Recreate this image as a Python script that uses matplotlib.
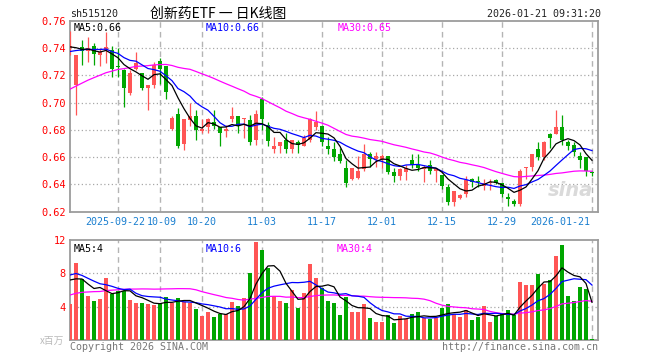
import numpy as np
import matplotlib.pyplot as plt
from matplotlib.transforms import ScaledTranslation

plt.rcParams['font.family'] = ['DejaVu Sans Mono', 'Noto Sans CJK SC']

# daily K-line data, 2025-09-10 .. 2026-01-21 (88 trading days)
opens = [0.740, 0.713, 0.741, 0.738, 0.742, 0.735, 0.739, 0.739, 0.727, 0.724,
         0.707, 0.725, 0.722, 0.711, 0.713, 0.731, 0.727, 0.681, 0.692, 0.670,
         0.687, 0.690, 0.679, 0.682, 0.686, 0.682, 0.679, 0.688, 0.690, 0.688,
         0.687, 0.673, 0.703, 0.684, 0.666, 0.668, 0.673, 0.666, 0.671, 0.668,
         0.673, 0.682, 0.683, 0.668, 0.666, 0.662, 0.652, 0.644, 0.645, 0.651,
         0.662, 0.659, 0.659, 0.661, 0.649, 0.646, 0.649, 0.658, 0.654, 0.651,
         0.654, 0.650, 0.647, 0.638, 0.627, 0.630, 0.633, 0.644, 0.6425, 0.639,
         0.641, 0.643, 0.641, 0.631, 0.628, 0.626, 0.652, 0.653, 0.666, 0.660,
         0.677, 0.677, 0.682, 0.671, 0.669, 0.661, 0.660, 0.6495]
highs = [0.753, 0.735, 0.746, 0.748, 0.744, 0.740, 0.752, 0.742, 0.740, 0.725,
         0.724, 0.737, 0.722, 0.713, 0.730, 0.733, 0.727, 0.690, 0.696, 0.688,
         0.700, 0.695, 0.688, 0.689, 0.695, 0.682, 0.684, 0.697, 0.690, 0.689,
         0.691, 0.695, 0.704, 0.686, 0.675, 0.671, 0.678, 0.673, 0.673, 0.676,
         0.689, 0.694, 0.684, 0.675, 0.671, 0.667, 0.658, 0.652, 0.661, 0.670,
         0.664, 0.664, 0.662, 0.661, 0.652, 0.652, 0.654, 0.662, 0.662, 0.654,
         0.658, 0.652, 0.647, 0.640, 0.635, 0.633, 0.646, 0.645, 0.646, 0.644,
         0.644, 0.644, 0.641, 0.634, 0.629, 0.651, 0.653, 0.662, 0.671, 0.672,
         0.678, 0.695, 0.691, 0.673, 0.671, 0.664, 0.660, 0.650]
lows = [0.735, 0.691, 0.728, 0.730, 0.728, 0.727, 0.729, 0.719, 0.719, 0.697,
        0.706, 0.724, 0.709, 0.695, 0.711, 0.714, 0.703, 0.680, 0.667, 0.665,
        0.683, 0.673, 0.678, 0.678, 0.681, 0.668, 0.675, 0.686, 0.678, 0.674,
        0.669, 0.669, 0.680, 0.668, 0.663, 0.663, 0.663, 0.663, 0.663, 0.668,
        0.671, 0.680, 0.668, 0.662, 0.657, 0.656, 0.638, 0.643, 0.644, 0.650,
        0.653, 0.653, 0.652, 0.648, 0.642, 0.643, 0.643, 0.652, 0.650, 0.642,
        0.648, 0.642, 0.637, 0.625, 0.624, 0.629, 0.631, 0.638, 0.638, 0.636,
        0.636, 0.640, 0.631, 0.624, 0.624, 0.624, 0.644, 0.650, 0.658, 0.658,
        0.667, 0.677, 0.669, 0.665, 0.661, 0.652, 0.646, 0.646]
closes = [0.742, 0.735, 0.738, 0.740, 0.736, 0.737, 0.741, 0.725, 0.726, 0.711,
          0.722, 0.729, 0.711, 0.713, 0.728, 0.725, 0.708, 0.689, 0.668, 0.688,
          0.690, 0.680, 0.681, 0.688, 0.683, 0.678, 0.681, 0.690, 0.683, 0.689,
          0.671, 0.692, 0.688, 0.672, 0.668, 0.671, 0.666, 0.673, 0.669, 0.674,
          0.688, 0.686, 0.671, 0.666, 0.660, 0.657, 0.641, 0.652, 0.650, 0.662,
          0.659, 0.661, 0.661, 0.649, 0.646, 0.651, 0.652, 0.654, 0.652, 0.653,
          0.650, 0.651, 0.639, 0.627, 0.635, 0.632, 0.643, 0.642, 0.6417, 0.641,
          0.642, 0.641, 0.633, 0.629, 0.626, 0.650, 0.6527, 0.662, 0.660, 0.671,
          0.674, 0.682, 0.673, 0.668, 0.664, 0.658, 0.650, 0.6485]
volumes = [4.3, 9.3, 7.3, 5.3, 4.7, 4.9, 7.4, 5.5, 5.9, 5.9,
           4.8, 4.4, 4.4, 4.3, 4.2, 4.5, 5.2, 4.4, 5.0, 4.6,
           4.5, 3.7, 2.9, 3.4, 2.8, 3.1, 3.1, 4.6, 4.1, 5.1,
           8.0, 11.8, 10.8, 8.7, 5.3, 4.7, 4.5, 6.0, 3.9, 5.6,
           9.1, 7.5, 6.2, 4.7, 4.4, 3.0, 5.2, 3.4, 3.4, 4.3,
           2.6, 2.2, 2.2, 3.0, 2.1, 2.9, 2.5, 3.1, 3.4, 2.6,
           2.5, 2.6, 3.9, 4.3, 3.1, 2.8, 3.6, 2.4, 2.8, 4.1,
           2.2, 2.9, 3.2, 3.6, 3.0, 7.0, 6.6, 6.6, 7.9, 6.7,
           7.2, 10.1, 11.4, 5.3, 4.7, 6.4, 6.1, 0.1]

# sessions before the window, only used to seed the moving averages
prior_closes = [0.668, 0.672, 0.675, 0.680, 0.684, 0.686, 0.690, 0.688, 0.694, 0.699,
                0.702, 0.705, 0.703, 0.712, 0.718, 0.705, 0.712, 0.708, 0.713, 0.709,
                0.728, 0.733, 0.736, 0.737, 0.737, 0.738, 0.744, 0.739, 0.742]
prior_volumes = [3.2, 3.8, 4.0, 3.5, 4.4, 4.1, 3.9, 4.6, 4.2, 4.0,
                 4.3, 3.9, 4.5, 4.8, 4.2, 4.6, 4.1, 4.4, 4.7, 4.8,
                 7.5, 9.6, 8.8, 8.1, 8.0, 8.6, 7.4, 8.3, 7.4]

tick_idx = [8, 15, 22, 32, 42, 52, 62, 72, 87]
tick_labels = ['2025-09-22', '10-09', '10-20', '11-03', '11-17',
               '12-01', '12-15', '12-29', '2026-01-21']


def moving_average(prior, values, n):
    full = np.array(prior + values)
    out = np.convolve(full, np.ones(n) / n, mode='valid')
    return out[-len(values):]


RED = '#ff5555'
GREEN = '#00a600'
GRIDC = '#a8a8a8'
BLUE = '#0000ff'
MAG = '#ff00ff'
FS = 7.2

x = np.arange(len(closes))
o = np.array(opens)
c = np.array(closes)
up = c >= o
colors = [RED if u else GREEN for u in up]

fig = plt.figure(figsize=(6.6, 3.6), dpi=100)
ax = fig.add_axes([70 / 660, 148.3 / 360, 528 / 660, 190.7 / 360])
axv = fig.add_axes([70 / 660, 20 / 360, 528 / 660, 100 / 360])

# candles
ax.vlines(x, lows, highs, colors=colors, lw=0.9, zorder=3)
body = np.maximum(np.abs(c - o), 0.0004)
ax.bar(x, body, bottom=np.minimum(o, c), width=0.75, color=colors, zorder=4)

ma5 = moving_average(prior_closes, closes, 5)
ma10 = moving_average(prior_closes, closes, 10)
ma30 = moving_average(prior_closes, closes, 30)
ax.plot(x, ma30, color=MAG, lw=0.9, zorder=5)
ax.plot(x, ma10, color=BLUE, lw=0.9, zorder=5)
ax.plot(x, ma5, color='black', lw=0.9, zorder=5)

ax.set_xlim(0, 88)
ax.set_ylim(0.62, 0.76)
yt = np.arange(0.62, 0.7601, 0.02)
ax.set_yticks(yt)
ax.set_yticklabels(['%.2f' % v for v in yt], color='#ff0000', fontsize=7.4)
ax.set_xticks(tick_idx)
ax.set_xticklabels(tick_labels, color='#1a7fd0', fontsize=7.2)
ax.tick_params(length=0, pad=3)
ax.tick_params(axis='x', pad=4)
xl = ax.get_xticklabels()
xl[0].set_transform(xl[0].get_transform() + ScaledTranslation(-0.025, 0, fig.dpi_scale_trans))
xl[1].set_transform(xl[1].get_transform() + ScaledTranslation(0.015, 0, fig.dpi_scale_trans))
xl[-1].set_ha('right')
xl[-1].set_transform(xl[-1].get_transform() + ScaledTranslation(-0.02, 0, fig.dpi_scale_trans))
for v in np.arange(0.64, 0.75, 0.02):
    ax.axhline(v, color=GRIDC, lw=0.9, ls=(0, (1, 2)), zorder=1)
for t in tick_idx:
    ax.axvline(t, color='#b4b4b4', lw=1.0, ls=(0, (4, 3)), zorder=1)

ax.text(0.007, 0.988, 'MA5:%.2f' % ma5[-1], transform=ax.transAxes, fontsize=FS,
        color='black', va='top')
ax.text(0.257, 0.988, 'MA10:%.2f' % ma10[-1], transform=ax.transAxes, fontsize=FS,
        color=BLUE, va='top')
ax.text(0.507, 0.988, 'MA30:%.2f' % ma30[-1], transform=ax.transAxes, fontsize=FS,
        color=MAG, va='top')
ax.text(0.99, 0.06, 'sina', transform=ax.transAxes, fontsize=14, color='#dadada',
        ha='right', va='bottom', style='italic', fontweight='bold',
        family='DejaVu Sans', zorder=2)

# volume
axv.bar(x, volumes, width=0.83, color=colors, zorder=3)
vma5 = moving_average(prior_volumes, volumes, 5)
vma10 = moving_average(prior_volumes, volumes, 10)
vma30 = moving_average(prior_volumes, volumes, 30)
axv.plot(x, vma30, color=MAG, lw=0.9, zorder=5)
axv.plot(x, vma10, color=BLUE, lw=0.9, zorder=5)
axv.plot(x, vma5, color='black', lw=0.9, zorder=5)
axv.set_xlim(0, 88)
axv.set_ylim(0, 12)
axv.set_yticks([4, 8, 12])
axv.set_yticklabels(['4', '8', '12'], color='#ff0000', fontsize=7.4)
axv.set_xticks([])
axv.tick_params(length=0, pad=3)
for v in [4, 8]:
    axv.axhline(v, color=GRIDC, lw=0.9, ls=(0, (1, 2)), zorder=1)
for t in tick_idx:
    axv.axvline(t, color='#b4b4b4', lw=1.0, ls=(0, (4, 3)), zorder=1)
axv.text(0.007, 0.965, 'MA5:%d' % int(vma5[-1]), transform=axv.transAxes,
         fontsize=FS, color='black', va='top')
axv.text(0.257, 0.965, 'MA10:%d' % int(vma10[-1]), transform=axv.transAxes,
         fontsize=FS, color=BLUE, va='top')
axv.text(0.505, 0.965, 'MA30:%d' % int(vma30[-1]), transform=axv.transAxes,
         fontsize=FS, color=MAG, va='top')

for a in (ax, axv):
    for s in a.spines.values():
        s.set_color('#9c9c9c')
        s.set_linewidth(1.3)

fig.text(70 / 660, 1 - 14 / 360, 'sh515120', fontsize=FS, color='#222222', va='center')
fig.text(218 / 660, 1 - 14 / 360, '创新药ETF 一 日K线图', fontsize=10, color='black',
         va='center', ha='center', family=['Noto Sans CJK SC', 'DejaVu Sans'])
fig.text(601 / 660, 1 - 14 / 360, '2026-01-21 09:31:20', fontsize=FS, color='#222222',
         va='center', ha='right')
fig.text(70 / 660, 1 - 347 / 360, 'Copyright 2026 SINA.COM', fontsize=FS,
         color='#777777', va='center')
fig.text(598 / 660, 1 - 347 / 360, 'http://finance.sina.com.cn', fontsize=FS,
         color='#777777', va='center', ha='right')
fig.text(64 / 660, 1 - 341 / 360, 'x百万', fontsize=7, color='#bbbbbb',
         va='center', ha='right', family=['Noto Sans CJK SC', 'DejaVu Sans'])

fig.savefig('out.png', dpi=100)
